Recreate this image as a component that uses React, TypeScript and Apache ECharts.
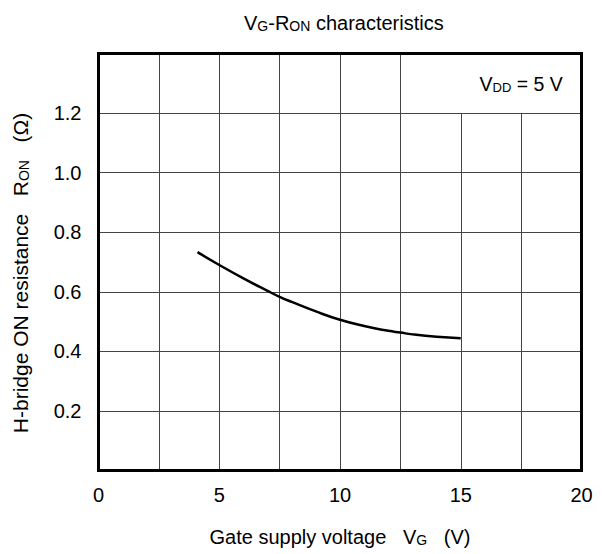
import React, { useEffect, useRef } from "react";
import * as echarts from "echarts";

const vgValues = [4.1, 5, 6, 7, 7.5, 8, 9, 10, 11, 12, 12.5, 13, 14, 15];
const ronValues = [0.733, 0.69, 0.645, 0.603, 0.583, 0.566, 0.534, 0.506, 0.485, 0.469, 0.463, 0.457, 0.449, 0.444];
const xTickLabels = ["0", "5", "10", "15", "20"];
const yTickLabels = ["0.2", "0.4", "0.6", "0.8", "1.0", "1.2"];
const conditionBox = { x0: 15, x1: 20, y0: 1.2, y1: 1.4 };

const FONT = "Liberation Sans";

const richBig = (fs: number, sub: number) => ({
  n: { fontSize: fs, fontFamily: FONT, fontWeight: "normal", color: "#000", verticalAlign: "bottom", lineHeight: fs + 1 },
  s: { fontSize: sub, fontFamily: FONT, fontWeight: "normal", color: "#000", verticalAlign: "bottom", lineHeight: sub + 3 },
});

export default function App() {
  const ref = useRef<HTMLDivElement>(null);
  useEffect(() => {
    if (!ref.current) return;
    const chart = echarts.init(ref.current, undefined, { renderer: "svg" });
    const data = vgValues.map((v, i) => [v, ronValues[i]]);
    chart.setOption({
      animation: false,
      backgroundColor: "#fff",
      textStyle: { fontFamily: FONT },
      title: {
        text: "{n|V}{s|G}{n|-R}{s|ON}{n| characteristics}",
        left: 239,
        top: 7,
        textStyle: { fontWeight: "normal", rich: richBig(20, 14) },
      },
      grid: {
        left: 98.5,
        right: 20.5,
        top: 53.5,
        bottom: 83.5,
        show: true,
        borderColor: "#000",
        borderWidth: 3,
        backgroundColor: "transparent",
        z: 10,
      },
      xAxis: {
        type: "value",
        min: 0,
        max: 20,
        interval: 2.5,
        axisLine: { show: false },
        axisTick: { show: false },
        axisLabel: {
          margin: 14,
          fontSize: 20,
          fontFamily: FONT,
          color: "#000",
          formatter: (v: number) => (Math.abs(v % 5) < 1e-6 ? xTickLabels[Math.round(v / 5)] : ""),
        },
        splitLine: { show: true, lineStyle: { color: "#444", width: 1 } },
        name: "{n|Gate supply voltage   V}{s|G}{n|   (V)}",
        nameLocation: "middle",
        nameGap: 55,
        nameTextStyle: { padding: [0, 0, 0, 0], rich: richBig(20, 14) },
      },
      yAxis: {
        type: "value",
        min: 0,
        max: 1.4,
        interval: 0.2,
        axisLine: { show: false },
        axisTick: { show: false },
        axisLabel: {
          margin: 17,
          fontSize: 20,
          fontFamily: FONT,
          color: "#000",
          formatter: (v: number) => {
            const idx = Math.round(v / 0.2) - 1;
            return idx >= 0 && idx < yTickLabels.length ? yTickLabels[idx] : "";
          },
        },
        splitLine: { show: true, lineStyle: { color: "#444", width: 1 } },
        name: "{n|H-bridge ON resistance   R}{s|ON}{n|   (Ω)}",
        nameLocation: "middle",
        nameGap: 68,
        nameRotate: 90,
        nameTextStyle: { padding: [0, 22, 0, 0], rich: richBig(21, 14) },
      },
      series: [
        {
          type: "line",
          data,
          smooth: true,
          showSymbol: false,
          symbol: "none",
          lineStyle: { color: "#000", width: 2.5 },
          z: 3,
          markArea: {
            silent: true,
            itemStyle: { color: "#fff", opacity: 1, borderWidth: 0 },
            label: {
              show: true,
              position: "inside",
              formatter: "{n|V}{s|DD}{n| = 5 V}",
              rich: richBig(19.5, 13),
            },
            data: [
              [
                { xAxis: conditionBox.x0, yAxis: conditionBox.y1 },
                { xAxis: conditionBox.x1, yAxis: conditionBox.y0 },
              ],
            ],
          },
        },
      ],
    });
    return () => chart.dispose();
  }, []);
  return <div ref={ref} style={{ position: "absolute", left: 0, top: 0, width: 602, height: 554 }} />;
}
